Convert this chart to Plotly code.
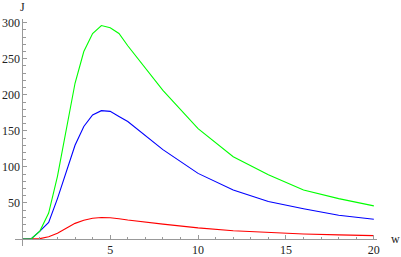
import plotly.graph_objects as go

w = [0, 0.5, 1, 1.5, 2, 2.5, 3, 3.5, 4, 4.5, 5, 5.5, 6, 8, 10, 12, 14, 16, 18, 20]
J_green = [0, 0, 11, 36, 87, 150, 216, 260, 285, 296, 293, 285, 268, 206, 153, 114, 89, 68, 56, 46]
J_blue = [0, 0, 11, 23, 56, 93, 130, 156, 172, 178, 177, 170, 163, 124, 91, 68, 52, 42, 33, 27.5]
J_red = [0, 0, 0.5, 3.2, 8, 15, 21.7, 26, 28.7, 29.8, 29.5, 28, 26.3, 20.7, 15.5, 11.5, 9, 7, 5.7, 4.7]

x_major = [5, 10, 15, 20]
x_minor = [1, 2, 3, 4, 6, 7, 8, 9, 11, 12, 13, 14, 16, 17, 18, 19]
y_major = [50, 100, 150, 200, 250, 300]
y_minor = [10, 20, 30, 40, 60, 70, 80, 90, 110, 120, 130, 140, 160, 170, 180, 190,
           210, 220, 230, 240, 260, 270, 280, 290]

xmin, xmax = -0.415, 20.18
ymin, ymax = -9.7, 305.1

fig = go.Figure()
for ys, col in [(J_red, "#ff0000"), (J_blue, "#0000ff"), (J_green, "#00ff00")]:
    fig.add_trace(go.Scatter(x=w, y=ys, mode="lines", line=dict(color=col, width=1.1),
                             showlegend=False, hoverinfo="skip"))

axcol = "#999999"
font = dict(family="Liberation Serif, DejaVu Serif, Times New Roman, serif", size=12, color="#222222")
common = dict(showgrid=False, zeroline=False, showline=True, linecolor=axcol, linewidth=1,
              anchor="free", automargin=False, ticks="inside", ticklen=4,
              tickcolor=axcol, tickwidth=1, tickfont=font, tickmode="array")
fig.update_layout(
    width=401, height=257,
    margin=dict(l=15, r=24, t=19, b=11, autoexpand=False),
    paper_bgcolor="white", plot_bgcolor="white",
    font=font,
    xaxis=dict(range=[xmin, xmax], position=(0 - ymin) / (ymax - ymin),
               tickvals=x_major, ticktext=[str(v) for v in x_major],
               minor=dict(tickmode="array", tickvals=x_minor, ticks="inside",
                          ticklen=2.5, tickcolor=axcol, tickwidth=1),
               **common),
    yaxis=dict(range=[ymin, ymax], position=(0 - xmin) / (xmax - xmin),
               tickvals=y_major, ticktext=[str(v) for v in y_major],
               minor=dict(tickmode="array", tickvals=y_minor, ticks="inside",
                          ticklen=2.5, tickcolor=axcol, tickwidth=1),
               **common),
    annotations=[
        dict(text="J", x=0, xref="x", y=1, yref="paper", yshift=12,
             xanchor="center", yanchor="middle", showarrow=False, font=font),
        dict(text="w", x=1, xref="paper", xshift=12, y=0, yref="y",
             xanchor="left", yanchor="middle", showarrow=False, font=font),
    ],
)

fig.write_html("out.html", config={"displayModeBar": False},
               post_script="document.body.style.margin='0';document.body.style.padding='0';")
